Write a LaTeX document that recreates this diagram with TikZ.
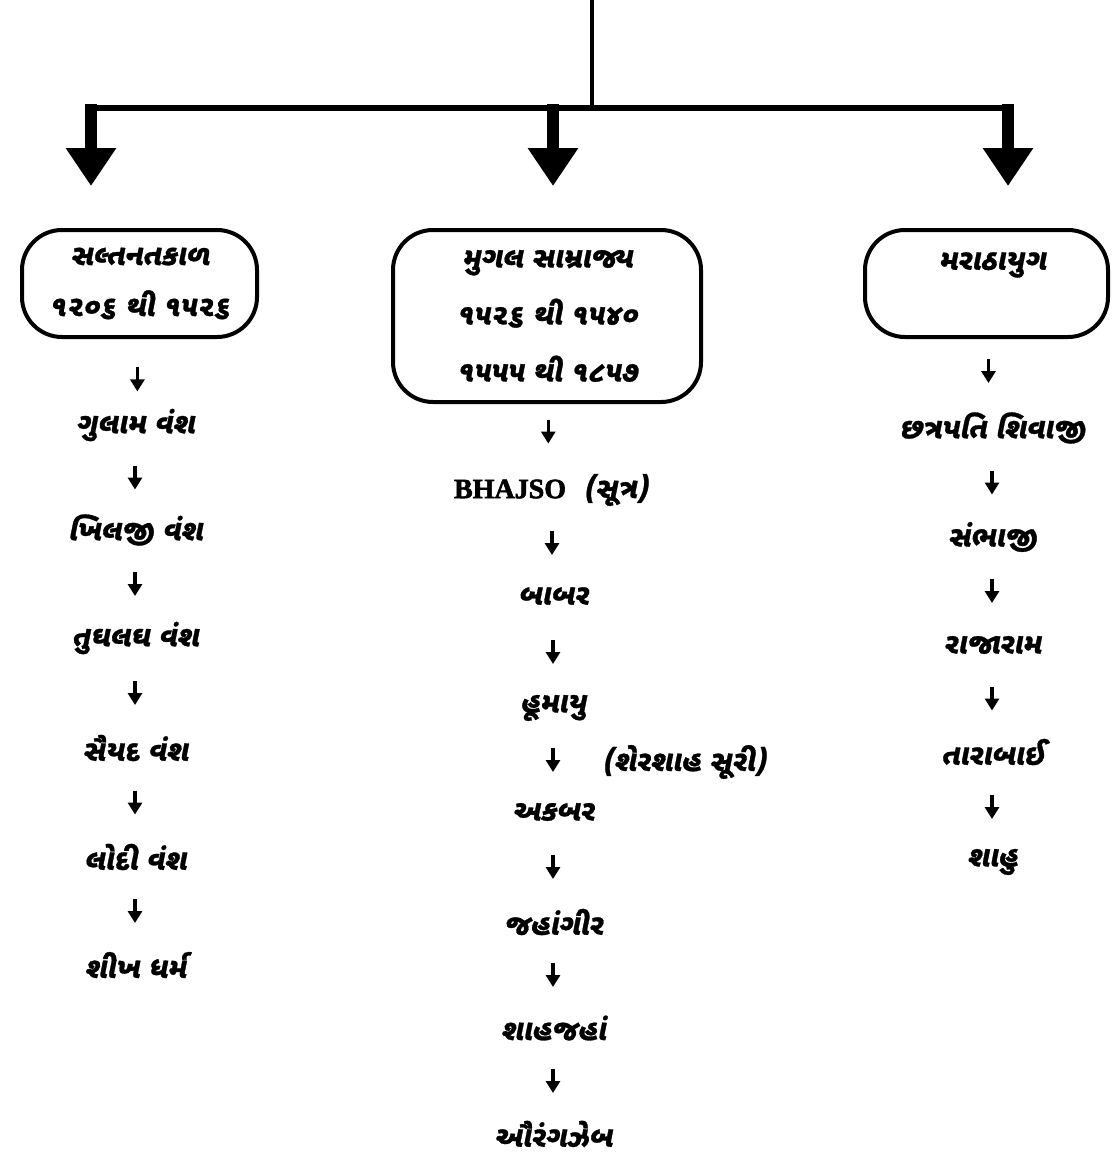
\documentclass[tikz,border=0pt]{standalone}
\usepackage{fontspec}
\setmainfont{Liberation Serif}
\newfontfamily\latbf[FakeBold=2.2]{Liberation Serif}
\newfontfamily\guj[Script=Gujarati,FakeSlant=0.2,FakeBold=1]{Noto Sans Gujarati UI}
\usetikzlibrary{arrows.meta,calc}
\newcommand\darr[3]{\draw[sarr] ($(#1)!#3!(#2)+(0,-12)$) -- ($(#1)!#3!(#2)+(0,12)$);}
\begin{document}
\begin{tikzpicture}[x=1pt,y=-1pt,
  box/.style={draw, line width=4pt, rounded corners=40pt, align=center, inner sep=0pt},
  gtext/.style={font=\guj\bfseries\fontsize{29}{30}\selectfont, inner sep=0pt},
  bigarrow/.style={line width=12pt, -{Triangle[width=48pt,length=38pt]}},
  sarr/.style={line width=3.5pt, -{Triangle[width=14pt,length=12pt]}},
]
\useasboundingbox (0,0) rectangle (1114,1156);
% top connectors
\coordinate (top) at (592,0);
\coordinate (barT) at (592,108);
\coordinate (barL) at (85,108);
\coordinate (barR) at (1014,108);
\coordinate (sL) at (91,104);
\coordinate (sM) at (553,104);
\coordinate (sR) at (1008,104);
\coordinate (tL) at (91,186);
\coordinate (tM) at (553,186);
\coordinate (tR) at (1008,186);
\draw[line width=4pt] (top) -- (barT);
\draw[line width=6pt] (barL) -- (barR);
\draw[bigarrow] (sL) -- (tL);
\draw[bigarrow] (sM) -- (tM);
\draw[bigarrow] (sR) -- (tR);
% boxes
\node[box, minimum width=235pt, minimum height=107pt, font=\guj\bfseries\fontsize{29}{51}\selectfont] (sb) at (139.5,283.5) {સલ્તનતકાળ\\૧૨૦૬ થી ૧૫૨૬};
\node[box, minimum width=308pt, minimum height=172pt, font=\guj\bfseries\fontsize{29}{57}\selectfont] (mb) at (547,316) {મુગલ સામ્રાજ્ય\\૧૫૨૬ થી ૧૫૪૦\\૧૫૫૫ થી ૧૮૫૭};
\node[box, minimum width=243pt, minimum height=107pt] (rb) at (986.5,283.5) {};
\node[gtext] (rt) at (992,265) {મરાઠાયુગ};
% left chain
\node[gtext] (l1) at (135,425) {ગુલામ વંશ};
\node[gtext] (l2) at (135,530) {ખિલજી વંશ};
\node[gtext] (l3) at (135,638) {તુઘલઘ વંશ};
\node[gtext] (l4) at (135,748) {સૈયદ વંશ};
\node[gtext] (l5) at (135,857) {લોદી વંશ};
\node[gtext] (l6) at (135,965) {શીખ ધર્મ};
\darr{sb.south}{l1}{0.47}
\darr{l1}{l2}{0.5}
\darr{l2}{l3}{0.5}
\darr{l3}{l4}{0.5}
\darr{l4}{l5}{0.5}
\darr{l5}{l6}{0.5}
% middle chain
\node[gtext] (m1) at (551,490) {{\latbf\fontsize{28}{30}\selectfont BHAJSO}\ \ (સૂત્ર)};
\node[gtext] (m2) at (553,596) {બાબર};
\node[gtext] (m3) at (553,708) {હૂમાયુ};
\node[gtext] (m4) at (553,812) {અકબર};
\node[gtext] (m5) at (553,922) {જહાંગીર};
\node[gtext] (m6) at (553,1028) {શાહજહાં};
\node[gtext] (m7) at (553,1134) {ઔરંગઝેબ};
\node[gtext] (sher) at (684,762) {(શેરશાહ સૂરી)};
\darr{mb.south}{m1}{0.32}
\darr{m1}{m2}{0.5}
\darr{m2}{m3}{0.5}
\darr{m3}{m4}{0.5}
\darr{m4}{m5}{0.5}
\darr{m5}{m6}{0.5}
\darr{m6}{m7}{0.5}
% right chain
\node[gtext] (r1) at (992,428) {છત્રપતિ શિવાજી};
\node[gtext] (r2) at (992,537) {સંભાજી};
\node[gtext] (r3) at (992,645) {રાજારામ};
\node[gtext] (r4) at (992,752) {તારાબાઈ};
\node[gtext] (r5) at (992,862) {શાહુ};
\darr{rb.south}{r1}{0.36}
\darr{r1}{r2}{0.5}
\darr{r2}{r3}{0.5}
\darr{r3}{r4}{0.5}
\darr{r4}{r5}{0.5}
\end{tikzpicture}
\end{document}
